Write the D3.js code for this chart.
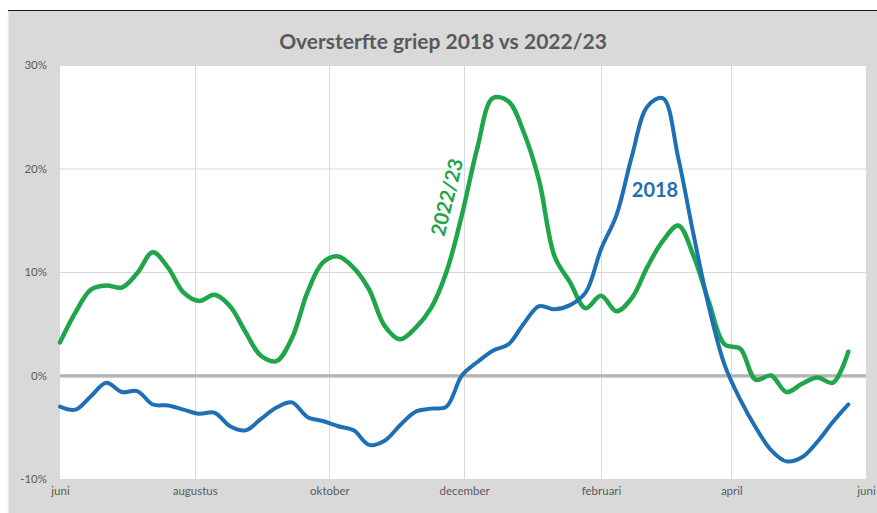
<!DOCTYPE html>
<html>
<head>
<meta charset="utf-8">
<script src="https://cdn.jsdelivr.net/npm/d3@7/dist/d3.min.js"></script>
<style>
  html, body { margin: 0; padding: 0; background: #ffffff; }
  svg { display: block; }
</style>
</head>
<body>
<svg id="chart" width="877" height="513"></svg>
<script>
// Weekly excess mortality (%), week 0 = start of June
const weeks = d3.range(52);
const values2018 = [
  -3.0, -3.3, -2.0, -0.7, -1.6, -1.5, -2.8, -2.9, -3.3, -3.7,
  -3.6, -4.9, -5.3, -4.2, -3.1, -2.6, -4.0, -4.4, -4.9, -5.3,
  -6.7, -6.3, -4.8, -3.5, -3.2, -3.0, 0.0, 1.3, 2.4, 3.0,
  5.0, 6.7, 6.4, 6.8, 8.0, 12.2, 15.5, 21.2, 26.0, 26.8,
  21.0, 13.5, 6.5, 1.0, -2.3, -5.0, -7.2, -8.3, -7.9, -6.4,
  -4.5, -2.8
];
const values2022 = [
  3.2, 6.1, 8.3, 8.7, 8.5, 9.9, 11.9, 10.4, 8.0, 7.2,
  7.8, 6.7, 4.2, 1.9, 1.4, 3.6, 8.0, 10.9, 11.5, 10.4,
  8.3, 4.8, 3.5, 4.6, 6.5, 10.0, 15.5, 22.0, 26.8, 26.5,
  23.5, 18.8, 11.5, 9.0, 6.5, 7.7, 6.2, 7.5, 10.5, 13.0,
  14.5, 11.5, 7.0, 3.0, 2.6, -0.4, 0.0, -1.6, -0.8, -0.2,
  -0.7, 2.3
];
// Axis labels: day offsets from 1 June and month names
const monthDays = [0, 61, 122, 183, 245, 304, 365];
const monthLabels = ["juni", "augustus", "oktober", "december", "februari", "april", "juni"];
const yTicks = [-10, 0, 10, 20, 30];

const svg = d3.select("#chart");
const W = 877, H = 513;
const plot = { left: 60, right: 866, top: 65, bottom: 479 };
const font = "Lato, 'Open Sans', sans-serif";
const textGrey = "#595959";

// Outer panel
svg.append("rect").attr("x", 8).attr("y", 10).attr("width", W - 8).attr("height", H - 10)
  .attr("fill", "#d9d9d9");
svg.append("line").attr("x1", 8).attr("x2", W).attr("y1", 10.5).attr("y2", 10.5)
  .attr("stroke", "#1a1a1a").attr("stroke-width", 1.2);
svg.append("line").attr("x1", 8.5).attr("x2", 8.5).attr("y1", 11).attr("y2", H)
  .attr("stroke", "#e8e8e8").attr("stroke-width", 1.5);

// Plot area
svg.append("rect").attr("x", plot.left).attr("y", plot.top)
  .attr("width", plot.right - plot.left).attr("height", plot.bottom - plot.top)
  .attr("fill", "#ffffff");

const x = d3.scaleLinear().domain([0, 365]).range([plot.left, plot.right]);
const y = d3.scaleLinear().domain([-10, 30]).range([plot.bottom, plot.top]);

// Gridlines
const grid = svg.append("g");
grid.selectAll("line.h").data(yTicks.filter(d => d !== 0)).join("line")
  .attr("x1", plot.left).attr("x2", plot.right)
  .attr("y1", d => y(d) + 0.5).attr("y2", d => y(d) + 0.5)
  .attr("stroke", "#d9d9d9").attr("stroke-width", 1);
grid.selectAll("line.v").data(monthDays.slice(1, -1)).join("line")
  .attr("x1", d => Math.round(x(d)) + 0.5).attr("x2", d => Math.round(x(d)) + 0.5)
  .attr("y1", plot.top).attr("y2", plot.bottom)
  .attr("stroke", "#d9d9d9").attr("stroke-width", 1);

// Zero line
svg.append("line").attr("x1", plot.left).attr("x2", plot.right)
  .attr("y1", y(0) + 1).attr("y2", y(0) + 1)
  .attr("stroke", "#d0d0d0").attr("stroke-width", 3);
svg.append("line").attr("x1", plot.left).attr("x2", plot.right)
  .attr("y1", y(0)).attr("y2", y(0))
  .attr("stroke", "#b0b0b0").attr("stroke-width", 2.5);

// Axes (labels only)
const yAxis = svg.append("g").attr("transform", `translate(${plot.left - 13},0)`)
  .call(d3.axisLeft(y).tickValues(yTicks).tickSize(0).tickPadding(0).tickFormat(d => d + "%"));
yAxis.select(".domain").remove();
yAxis.selectAll("text").attr("fill", textGrey).attr("font-family", font).attr("font-size", 11.5);

const xAxis = svg.append("g").attr("transform", `translate(0,${plot.bottom + 8})`)
  .call(d3.axisBottom(x).tickValues(monthDays).tickSize(0).tickPadding(0)
    .tickFormat((d, i) => monthLabels[i]));
xAxis.select(".domain").remove();
xAxis.selectAll("text").attr("fill", textGrey).attr("font-family", font).attr("font-size", 11.5);

// Series
const line = d3.line().x((d, i) => x(weeks[i] * 7)).y(d => y(d)).curve(d3.curveCatmullRom.alpha(0.5));
svg.append("path").datum(values2022).attr("d", line)
  .attr("fill", "none").attr("stroke", "#1fa54a").attr("stroke-width", 4.5)
  .attr("stroke-linejoin", "round").attr("stroke-linecap", "round");
svg.append("path").datum(values2018).attr("d", line)
  .attr("fill", "none").attr("stroke", "#1f6fb4").attr("stroke-width", 4)
  .attr("stroke-linejoin", "round").attr("stroke-linecap", "round");

// Series labels
svg.append("text").text("2022/23")
  .attr("transform", "translate(446,197) rotate(-76)")
  .attr("text-anchor", "middle").attr("dominant-baseline", "central")
  .attr("font-family", font).attr("font-weight", 700).attr("font-size", 20)
  .attr("fill", "#1fa54a");
svg.append("text").text("2018")
  .attr("x", 655).attr("y", 189)
  .attr("text-anchor", "middle").attr("dominant-baseline", "central")
  .attr("font-family", font).attr("font-weight", 700).attr("font-size", 20)
  .attr("fill", "#1f6fb4");

// Title
svg.append("text").text("Oversterfte griep 2018 vs 2022/23")
  .attr("x", 443).attr("y", 40)
  .attr("text-anchor", "middle").attr("dominant-baseline", "central")
  .attr("font-family", font).attr("font-weight", 700).attr("font-size", 21)
  .attr("fill", textGrey);
</script>
</body>
</html>
